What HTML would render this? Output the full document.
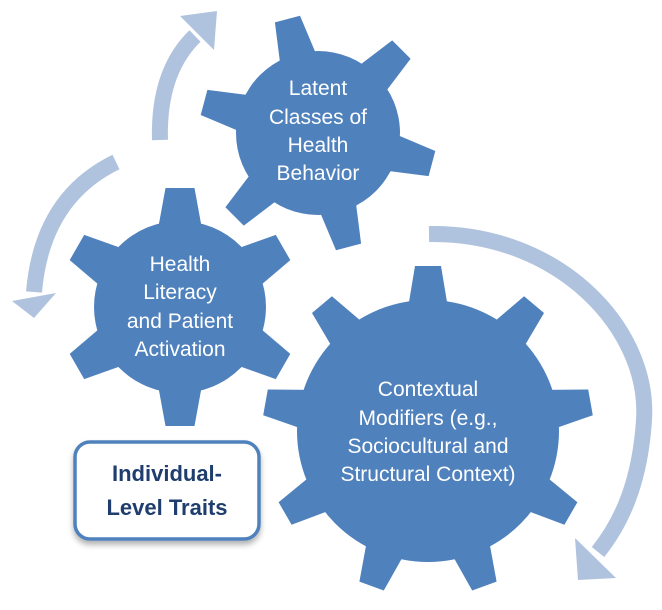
<!DOCTYPE html>
<html><head><meta charset="utf-8"><style>
html,body{margin:0;padding:0;background:#fff;}
svg{display:block;}
text{font-family:"Liberation Sans",sans-serif;}
</style></head><body>
<svg id="s" width="662" height="610" viewBox="0 0 662 610" xmlns="http://www.w3.org/2000/svg">
<defs><filter id="sh" x="-20%" y="-20%" width="140%" height="150%"><feDropShadow dx="0" dy="4" stdDeviation="3" flood-color="#000" flood-opacity="0.3"/></filter></defs>
<g fill="none" stroke="#b0c3de" stroke-width="16">
<path d="M160,140 Q158,72 195,36"/>
<path d="M116,162 Q42,198 34,292"/>
<path d="M429,234 C560,232 650,330 644,420 C640,482 622,522 598,552"/>
</g>
<g fill="#b0c3de">
<polygon points="180,16 217,11 214,50"/>
<polygon points="12,301 56,293 34,318"/>
<polygon points="575,538 616,578 578,580"/>
</g>
<g id="gears" fill="#4f81bd"></g>
<g fill="#fff" font-size="21" text-anchor="middle">
<text x="318" y="95">Latent</text>
<text x="318" y="124">Classes of</text>
<text x="318" y="152">Health</text>
<text x="318" y="180">Behavior</text>
<text x="180" y="271">Health</text>
<text x="180" y="299">Literacy</text>
<text x="180" y="328">and Patient</text>
<text x="180" y="356">Activation</text>
<text x="428" y="396">Contextual</text>
<text x="428" y="425">Modifiers (e.g.,</text>
<text x="428" y="453">Sociocultural and</text>
<text x="428" y="481">Structural Context)</text>
</g>
<rect x="75" y="442" width="184" height="97" rx="15" fill="#fff" stroke="#4f81bd" stroke-width="3.5" filter="url(#sh)"/>
<g fill="#1f3e6e" font-size="22" font-weight="bold" text-anchor="middle">
<text x="167" y="481">Individual-</text>
<text x="167" y="515">Level Traits</text>
</g>
</svg>
<script>
(function(){
var g=document.getElementById('gears');
function gear(cx,cy,r,R,n,a0,tw,bw){
 var s='<circle cx="'+cx+'" cy="'+cy+'" r="'+r+'"/>';
 for(var i=0;i<n;i++){
  var a=(a0+i*360/n)*Math.PI/180;
  var ux=Math.cos(a),uy=Math.sin(a),px=-uy,py=ux;
  var rb=r-8;
  var pts=[[rb,-bw/2],[rb,bw/2],[R,tw/2],[R,-tw/2]].map(function(p){
   return (cx+ux*p[0]+px*p[1]).toFixed(1)+','+(cy+uy*p[0]+py*p[1]).toFixed(1);});
  s+='<polygon points="'+pts.join(' ')+'"/>';
 }
 return s;
}
var h=gear(318,133,82,118,6,-105,26,38);
h+=gear(180,307,86,119,6,-90,29,44);
h+=gear(428,431,131,165,9,-90,26,40);
g.innerHTML=h;
})();
</script>
</body></html>
